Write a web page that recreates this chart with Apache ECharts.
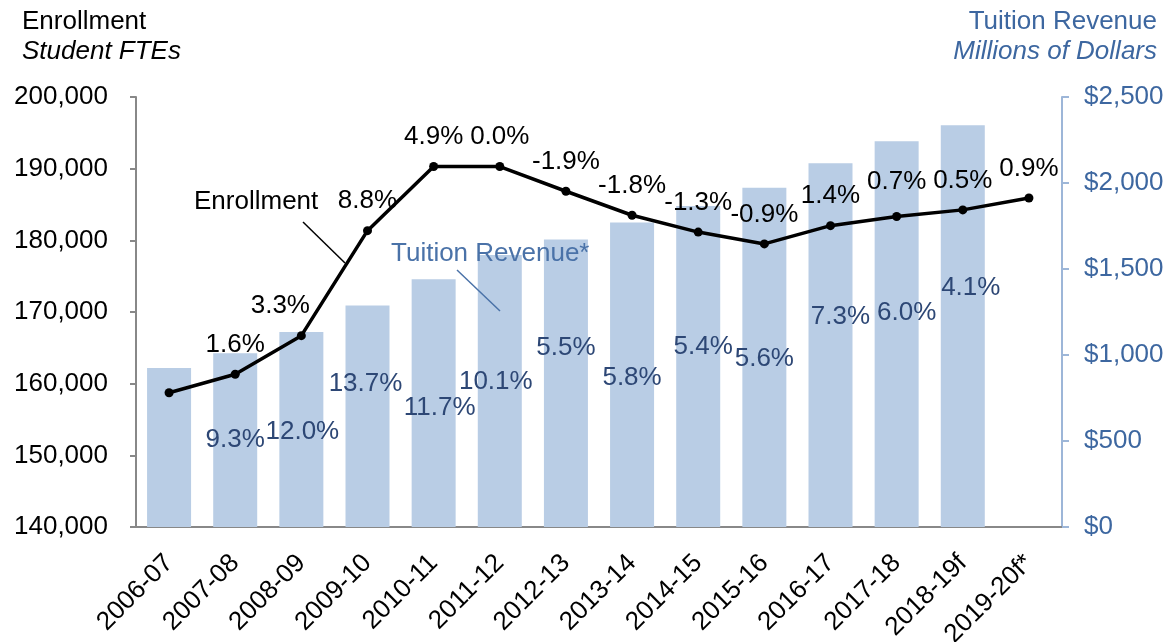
<!DOCTYPE html>
<html>
<head>
<meta charset="utf-8">
<script src="https://cdn.jsdelivr.net/npm/echarts@6/dist/echarts.min.js"></script>
<style>
  html, body { margin: 0; padding: 0; background: #fff; }
  #chart { width: 1172px; height: 642px; }
</style>
</head>
<body>
<div id="chart"></div>
<script>
// data
const years = ['2006-07', '2007-08', '2008-09', '2009-10', '2010-11', '2011-12', '2012-13',
  '2013-14', '2014-15', '2015-16', '2016-17', '2017-18', '2018-19f', '2019-20f*'];
const enrollment = [158740, 161320, 166700, 181350, 190300, 190300, 186850,
  183500, 181150, 179500, 182050, 183330, 184250, 185900];
const enrollGrowth = ['', '1.6%', '3.3%', '8.8%', '4.9%', '0.0%', '-1.9%',
  '-1.8%', '-1.3%', '-0.9%', '1.4%', '0.7%', '0.5%', '0.9%'];
const revenue = [924, 1010, 1133, 1288, 1440, 1582, 1672,
  1770, 1866, 1972, 2115, 2243, 2336, null];
const revenueGrowth = ['', '9.3%', '12.0%', '13.7%', '11.7%', '10.1%', '5.5%',
  '5.8%', '5.4%', '5.6%', '7.3%', '6.0%', '4.1%', ''];
const leftTicks = [140000, 200000, 10000];
const rightTicks = [0, 2500, 500];

// label nudges (px) to mimic the hand-placed labels
const revLabelOffset = [[0, 0], [0, 69], [1, 82], [-2, 60], [6, 111], [-4, 109], [0, 90],
  [0, 137], [5, 123], [0, 153], [10, 136], [10, 154], [8, 145], [0, 0]];
const enrLabelOffset = { 2: [-21, 0], 11: [0, -5] };

const FONT = 'Liberation Sans, Arial, sans-serif';
const BLUE = '#3D67A0';
const DARKBLUE = '#2D4775';

const chart = echarts.init(document.getElementById('chart'));

const barData = revenue.map((v, i) => ({
  value: v,
  label: { offset: revLabelOffset[i] }
}));
const lineData = enrollment.map((v, i) => ({
  value: v,
  label: { offset: enrLabelOffset[i] || [0, 0] }
}));

chart.setOption({
  animation: false,
  textStyle: { fontFamily: FONT },
  grid: { left: 136, right: 110, top: 97, bottom: 115, outerBoundsMode: 'none', containLabel: false },
  xAxis: {
    type: 'category',
    data: years,
    axisLine: { lineStyle: { color: '#888', width: 2 } },
    axisTick: { show: false },
    axisLabel: {
      rotate: 45, interval: 0, margin: 32,
      color: '#000', fontSize: 26, fontFamily: FONT
    }
  },
  yAxis: [
    {
      type: 'value', min: leftTicks[0], max: leftTicks[1], interval: leftTicks[2],
      splitLine: { show: false },
      axisLine: { show: true, lineStyle: { color: '#888', width: 2 } },
      axisTick: { show: true, length: 6, lineStyle: { color: '#888', width: 2 } },
      axisLabel: {
        margin: 28, color: '#000', fontSize: 26, fontFamily: FONT,
        formatter: v => v.toLocaleString('en-US')
      }
    },
    {
      type: 'value', min: rightTicks[0], max: rightTicks[1], interval: rightTicks[2],
      position: 'right',
      splitLine: { show: false },
      axisLine: { show: true, lineStyle: { color: '#9DB6D8', width: 2 } },
      axisTick: { show: true, length: 7, lineStyle: { color: '#9DB6D8', width: 2 } },
      axisLabel: {
        margin: 22, color: BLUE, fontSize: 26, fontFamily: FONT,
        formatter: v => '$' + v.toLocaleString('en-US')
      }
    }
  ],
  series: [
    {
      name: 'Tuition Revenue*',
      type: 'bar',
      yAxisIndex: 1,
      data: barData,
      barWidth: 44,
      itemStyle: { color: '#B9CDE5' },
      label: {
        show: true, position: 'insideTop', distance: 5,
        color: DARKBLUE, fontSize: 26, fontFamily: FONT,
        formatter: p => revenueGrowth[p.dataIndex]
      },
      z: 1
    },
    {
      name: 'Enrollment',
      type: 'line',
      yAxisIndex: 0,
      data: lineData,
      symbol: 'circle',
      symbolSize: 9,
      itemStyle: { color: '#000' },
      lineStyle: { color: '#000', width: 3.5 },
      label: {
        show: true, position: 'top', distance: 12,
        color: '#000', fontSize: 26, fontFamily: FONT,
        formatter: p => enrollGrowth[p.dataIndex]
      },
      z: 3
    }
  ],
  graphic: [
    { type: 'text', left: 22, top: 9, style: { text: 'Enrollment', font: '26px ' + FONT, fill: '#000' } },
    { type: 'text', left: 22, top: 39, style: { text: 'Student FTEs', font: 'italic 26px ' + FONT, fill: '#000' } },
    { type: 'text', right: 15, top: 9, style: { text: 'Tuition Revenue', font: '26px ' + FONT, fill: BLUE } },
    { type: 'text', right: 15, top: 39, style: { text: 'Millions of Dollars', font: 'italic 26px ' + FONT, fill: BLUE } },
    { type: 'text', left: 194, top: 189, z: 10, style: { text: 'Enrollment', font: '26px ' + FONT, fill: '#000' } },
    { type: 'line', z: 10, shape: { x1: 303, y1: 222, x2: 345, y2: 263 }, style: { stroke: '#000', lineWidth: 1.5 } },
    { type: 'text', left: 391, top: 241, z: 10, style: { text: 'Tuition Revenue*', font: '26px ' + FONT, fill: '#4A72A8' } },
    { type: 'line', z: 10, shape: { x1: 457, y1: 270, x2: 500, y2: 311 }, style: { stroke: '#4A72A8', lineWidth: 1.5 } }
  ]
});
</script>
</body>
</html>
